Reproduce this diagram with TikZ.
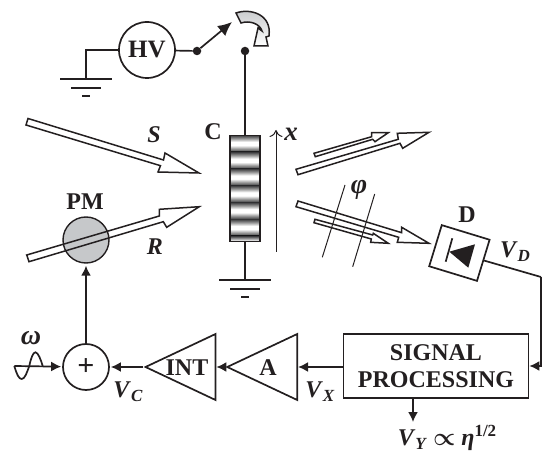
\documentclass[tikz,border=0pt]{standalone}
\usepackage{fontspec}
\setmainfont{Liberation Serif}
\usetikzlibrary{arrows.meta,shapes.geometric}
\definecolor{ink}{HTML}{231F20}
\definecolor{pmgray}{HTML}{C6C8CA}
\definecolor{band}{HTML}{3A3A3C}
\pgfdeclareverticalshading{cellband}{100bp}{color(0bp)=(band);color(25bp)=(band);color(35bp)=(gray!80);color(45bp)=(white);color(55bp)=(white);color(65bp)=(gray!80);color(75bp)=(band);color(100bp)=(band)}
\newcommand{\bigfont}{\fontsize{24}{26}\selectfont\bfseries}
\newcommand{\Vsub}[1]{\textit{V}{\fontsize{17}{17}\selectfont\raisebox{-4pt}{\textit{#1}}}}
\tikzset{
    lbl/.style={font=\bigfont,text=ink,inner sep=0pt},
    wire/.style={draw=ink,line width=1.7pt},
    feed/.style={wire,-{Latex[length=10pt,width=10pt]}},
    thin line/.style={draw=ink,line width=1pt},
    beam/.style={draw=ink,line width=1.5pt,line join=miter},
    dot/.style={circle,fill=ink,inner sep=0pt,minimum size=8.5pt},
    block/.style={draw=ink,line width=1.7pt,inner sep=0pt},
    amp/.style={block,isosceles triangle,isosceles triangle stretches,shape border rotate=180,minimum width=66pt,minimum height=70pt,anchor=apex},
    gnd/.pic={
        \draw[wire] (-26,0) -- (26,0);
        \draw[wire] (-15,9) -- (15,9);
        \draw[wire] (-4,17) -- (4,17);
    }
}
\begin{document}
\begin{tikzpicture}[x=1pt,y=-1pt]
    \useasboundingbox (0,0) rectangle (542,452);

    % high voltage and switch
    \node[block,circle,minimum size=56pt,lbl,font=\fontsize{25}{26}\selectfont\bfseries] (hv) at (147,50) {HV};
    \node[dot] (swa) at (197,51) {};
    \node[dot] (swb) at (245,51) {};
    \coordinate (swtip) at (232,22);
    \coordinate (gnda) at (86,79);
    \draw[wire] (hv) -- (swa);
    \draw[wire] (hv.west) -| (gnda);
    \pic at (gnda) {gnd};
    \draw[wire,-{Latex[length=14pt,width=13pt]}] (swa) -- (swtip);
    \draw[beam,top color=pmgray,bottom color=white,shading angle=0]
        (236,13) .. controls (250,8) and (272,14) .. (269,36)
        -- (266,37) -- (268,46) -- (254,46) -- (258,28) -- (262,31)
        .. controls (260,24) and (250,20) .. (241,23) -- cycle;

    % cell
    \foreach \k in {0,...,5} {
        \shade[shading=cellband]
            (230,{135.2+16.8*\k}) rectangle (260,{152+16.8*\k});
    }
    \shade[top color=band,bottom color=white] (230,236) rectangle (260,241);
    \node[block,minimum width=30pt,minimum height=106pt] (cell) at (245,188.5) {};
    \coordinate (gndc) at (245,280);
    \draw[wire] (swb) -- (cell.north);
    \draw[wire] (cell.south) -- (gndc);
    \pic at (gndc) {gnd};
    \coordinate (xa) at (276,252);
    \coordinate (xb) at (276,130);
    \draw[thin line,-{To[length=7pt,width=13pt]}] (xa) -- (xb);
    \node[lbl] (clabel) at (213,132) {C};
    \node[lbl,font=\fontsize{27}{27}\selectfont\bfseries] (xlabel) at (291,134) {\textit{x}};

    % phase modulator
    \node[circle,draw=ink,fill=pmgray,line width=1.4pt,minimum size=46pt,inner sep=0pt] (pm) at (86,240) {};
    \node[lbl] (pmlabel) at (85,202) {PM};

    % beams
    \draw[beam] (28,118.5) -- (163.5,160) -- (165,153) -- (199,173) -- (158,172) -- (160.5,165.7) -- (26,125) -- cycle;
    \draw[beam] (26.7,255) -- (159.3,216) -- (159.3,209.3) -- (199.3,206.7) -- (166.7,227.3) -- (163.3,221.7) -- (29,261.7) -- cycle;
    \draw[beam] (296,169.3) -- (398.3,139.3) -- (397.3,133.3) -- (429,132.3) -- (402.7,148.3) -- (400,143.3) -- (298,174.7) -- cycle;
    \draw[beam] (314,153.3) -- (371.7,136.7) -- (371.7,132.7) -- (388.3,132.7) -- (375,141.7) -- (372.7,139.3) -- (315.3,156.7) -- cycle;
    \draw[beam] (298,201) -- (401.7,232.7) -- (401.7,227.3) -- (429,243.3) -- (397.3,242.3) -- (398.7,237.3) -- (296,206.7) -- cycle;
    \draw[beam] (315,219.3) -- (372.7,235) -- (373.3,233.3) -- (388.3,243.3) -- (370.7,242.3) -- (371.3,239) -- (314,222.7) -- cycle;
    \node[lbl] (slabel) at (154,135) {\textit{S}};
    \node[lbl] (rlabel) at (155,247) {\textit{R}};

    % phase lines
    \draw[thin line] (345,185) -- (322.3,257.3);
    \draw[thin line] (374.7,194) -- (352.7,266.7);
    \node[lbl,font=\fontsize{28}{28}\selectfont\bfseries] (philabel) at (359,190) {\textit{φ}};

    % detector
    \node[block,minimum width=50pt,minimum height=43pt,rotate=-17] (det) at (459.4,253) {};
    \draw[wire] (452.3,238.3) -- (445.7,261.7);
    \fill[ink] (449.3,251.7) -- (475,244.3) -- (468.3,267.7) -- cycle;
    \node[lbl] (dlabel) at (467,215) {D};
    \node[lbl] (vdlabel) at (515,252) {\Vsub{D}};

    % feedback chain
    \node[block,minimum width=185pt,minimum height=64pt,lbl,align=center] (sp) at (436,366)
        {SIGNAL\\[1pt]PROCESSING};
    \node[amp] (ampa) at (225,367) {};
    \node[amp] (ampi) at (143.3,367) {};
    \node[lbl] (alabel) at (268,368) {A};
    \node[lbl] (intlabel) at (187,368) {INT};
    \node[block,circle,minimum size=46pt,lbl,font=\fontsize{30}{30}\selectfont\bfseries] (sum) at (86,367) {+};
    \coordinate (corner) at (541,277);
    \coordinate (sine) at (14.3,366);
    \coordinate (vyend) at (413,422);
    \draw[wire] (det.east) -- (corner);
    \draw[feed] (corner) |- (sp.east);
    \draw[feed] (sp.west |- ampa.apex) -- (ampa.east);
    \draw[feed] (ampa.apex) -- (ampa.apex -| ampi.east);
    \draw[feed,shorten >=1pt] (ampi.apex) -- (sum);
    \draw[feed,shorten >=2pt] (sum) -- (pm);
    \draw[feed,shorten >=1pt] (sine) -- (sum);
    \draw[wire] (sine) .. controls (17,375) and (19,379) .. (21.7,379)
        .. controls (25,379) and (27,372) .. (29.3,366)
        .. controls (31,358) and (33,352.3) .. (35.5,352.3)
        .. controls (38,352.3) and (41,360) .. (42.7,366);
    \draw[feed] (sp.south -| vyend) -- (vyend);
    \node[lbl,font=\fontsize{28}{28}\selectfont\bfseries] (omega) at (31,338) {\textit{ω}};
    \node[lbl] (vclabel) at (128,392) {\Vsub{C}};
    \node[lbl] (vxlabel) at (320,392) {\Vsub{X}};
    \node[lbl] (vylabel) at (447,438) {\Vsub{Y} {\boldmath$\propto$} \textit{η}\raisebox{9pt}{\fontsize{17}{17}\selectfont 1/2}};
\end{tikzpicture}
\end{document}
